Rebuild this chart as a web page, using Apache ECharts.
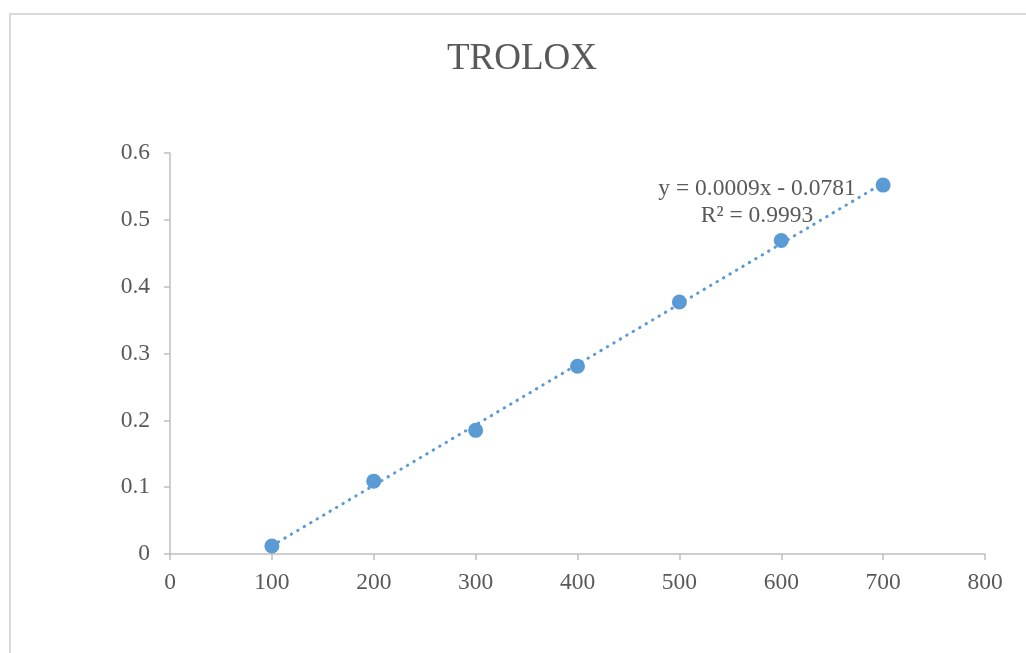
<!DOCTYPE html>
<html>
<head>
<meta charset="utf-8">
<script src="https://cdn.jsdelivr.net/npm/echarts@6/dist/echarts.min.js"></script>
<style>html,body{margin:0;padding:0;background:#fff}#c{width:1026px;height:653px}</style>
</head>
<body>
<div id="c"></div>
<script>
var xValues = [100, 200, 300, 400, 500, 600, 700];
var yValues = [0.012, 0.109, 0.185, 0.281, 0.377, 0.469, 0.552];
var titleText = 'TROLOX';
var eqLine1 = 'y = 0.0009x - 0.0781';
var eqLine2 = 'R² = 0.9993';

var n = xValues.length, mx = 0, my = 0;
for (var i = 0; i < n; i++) { mx += xValues[i]; my += yValues[i]; }
mx /= n; my /= n;
var sxy = 0, sxx = 0;
for (var i = 0; i < n; i++) { sxy += (xValues[i]-mx)*(yValues[i]-my); sxx += (xValues[i]-mx)*(xValues[i]-mx); }
var slope = sxy / sxx, intercept = my - slope * mx;
var xmin = Math.min.apply(null, xValues), xmax = Math.max.apply(null, xValues);
var trend = [[xmin, slope*xmin+intercept], [xmax, slope*xmax+intercept]];
var points = xValues.map(function (x, i) { return [x, yValues[i]]; });

var font = '"Liberation Serif", "Times New Roman", serif';
var chart = echarts.init(document.getElementById('c'));
chart.setOption({
  animation: false,
  grid: { left: 170, right: 41, top: 153, bottom: 99 },
  graphic: [
    { type: 'rect', shape: { x: 10, y: 14, width: 1100, height: 700 }, style: { fill: 'none', stroke: '#D9D9D9', lineWidth: 2 } },
    { type: 'text', x: 522, y: 59, style: { text: titleText, fontFamily: font, fontSize: 37, fill: '#595959', align: 'center', verticalAlign: 'middle' } },
    { type: 'text', x: 757, y: 189, style: { text: eqLine1, fontFamily: font, fontSize: 23.5, fill: '#595959', align: 'center', verticalAlign: 'middle' } },
    { type: 'text', x: 757, y: 216, style: { text: eqLine2, fontFamily: font, fontSize: 23.5, fill: '#595959', align: 'center', verticalAlign: 'middle' } }
  ],
  xAxis: {
    type: 'value', min: 0, max: 800, interval: 100,
    axisLine: { show: true, lineStyle: { color: '#BFBFBF', width: 1.5 } },
    axisTick: { show: true, length: 6, lineStyle: { color: '#BFBFBF', width: 1.5 } },
    axisLabel: { fontFamily: font, fontSize: 23.5, color: '#595959', margin: 17 },
    splitLine: { show: false }
  },
  yAxis: {
    type: 'value', min: 0, max: 0.6, interval: 0.1,
    axisLine: { show: true, lineStyle: { color: '#BFBFBF', width: 1.5 } },
    axisTick: { show: true, length: 6, lineStyle: { color: '#BFBFBF', width: 1.5 } },
    axisLabel: { fontFamily: font, fontSize: 23.5, color: '#595959', margin: 20 },
    splitLine: { show: false }
  },
  series: [
    { type: 'line', data: trend, symbol: 'none', silent: true, z: 1,
      lineStyle: { color: '#5B9BD5', width: 3, type: [0.5, 7], cap: 'round' } },
    { type: 'scatter', data: points, symbol: 'circle', symbolSize: 15, z: 2,
      itemStyle: { color: '#5B9BD5', opacity: 1 } }
  ]
});
</script>
</body>
</html>
